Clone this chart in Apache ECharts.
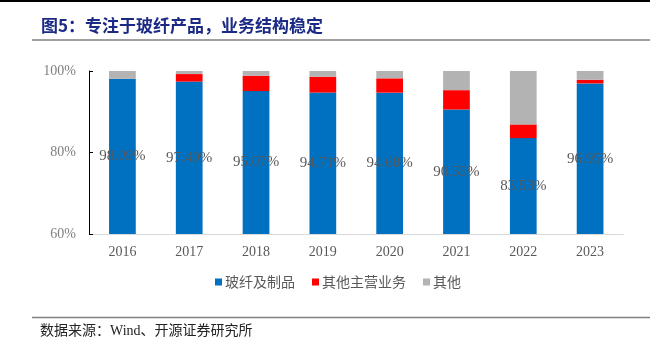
<!DOCTYPE html>
<html><head><meta charset="utf-8">
<script src="https://cdn.jsdelivr.net/npm/echarts@6/dist/echarts.min.js"></script>
<style>html,body{margin:0;padding:0;background:#fff}#c{width:650px;height:339px}</style>
</head><body><div id="c"></div>
<script>
var categories = ['2016','2017','2018','2019','2020','2021','2022','2023'];
var glassFiber = [98.09, 97.40, 95.07, 94.71, 94.68, 90.55, 83.53, 96.95];
var otherMain = [0.00, 1.85, 3.78, 3.89, 3.52, 4.75, 3.37, 0.90];
var others = [1.91, 0.75, 1.15, 1.40, 1.80, 4.70, 13.10, 2.15];
var seriesNames = ['玻纤及制品', '其他主营业务', '其他'];
var yTicks = [60, 80, 100];

var chart = echarts.init(document.getElementById('c'), null, {renderer: 'canvas'});
var serif = '"Liberation Serif", "Times New Roman", serif';
var mixed = '"Liberation Serif", "Noto Sans CJK SC", serif';
var cjk = '"Noto Sans CJK SC", sans-serif';
chart.setOption({
  animation: false,
  title: [{
    text: '图5：专注于玻纤产品，业务结构稳定',
    left: 41, top: 17, padding: 0,
    textStyle: {fontFamily: cjk, fontSize: 17, fontWeight: 'bold', color: '#1b2a84', lineHeight: 17}
  }, {
    text: '数据来源：Wind、开源证券研究所',
    left: 40, top: 324, padding: 0,
    textStyle: {fontFamily: mixed, fontSize: 14, fontWeight: 'normal', color: '#222', lineHeight: 14}
  }],
  graphic: [
    {type: 'line', shape: {x1: 0, y1: 1, x2: 650, y2: 1}, style: {stroke: '#000', lineWidth: 2}},
    {type: 'line', shape: {x1: 32, y1: 40, x2: 650, y2: 40}, style: {stroke: '#808080', lineWidth: 1.5}},
    {type: 'line', shape: {x1: 32, y1: 317.5, x2: 650, y2: 317.5}, style: {stroke: '#808080', lineWidth: 1.5}}
  ],
  legend: {
    data: seriesNames,
    top: 275, left: 215, padding: 0,
    itemWidth: 7, itemHeight: 7, itemGap: 17,
    icon: 'rect',
    textStyle: {fontFamily: cjk, fontSize: 14, color: '#595959', padding: [0, 0, 0, -2], lineHeight: 14}
  },
  grid: {left: 89, right: 26.5, top: 71, bottom: 105, containLabel: false},
  xAxis: {
    type: 'category', data: categories,
    axisLine: {lineStyle: {color: '#d9d9d9', width: 1}},
    axisTick: {show: false},
    axisLabel: {fontFamily: serif, fontSize: 14, color: '#595959', margin: 11}
  },
  yAxis: {
    type: 'value', min: 60, max: 100, interval: 20,
    axisLine: {show: true, lineStyle: {color: '#000', width: 1}},
    axisTick: {show: true, inside: true, length: 4, lineStyle: {color: '#000'}},
    splitLine: {show: false},
    axisLabel: {fontFamily: serif, fontSize: 14, color: '#7f7f7f', margin: 13,
      formatter: function (v) { return yTicks.indexOf(v) >= 0 ? v + '%' : ''; }}
  },
  series: [{
    name: seriesNames[0], type: 'bar', stack: 'a', data: glassFiber, barWidth: '40%',
    itemStyle: {color: '#0070c0'},
    label: {show: true, position: 'inside', fontFamily: serif, fontSize: 15, color: '#595959',
      formatter: function (p) { return p.value.toFixed(2) + '%'; }}
  }, {
    name: seriesNames[1], type: 'bar', stack: 'a', data: otherMain, barWidth: '40%',
    itemStyle: {color: '#ff0000'}
  }, {
    name: seriesNames[2], type: 'bar', stack: 'a', data: others, barWidth: '40%',
    itemStyle: {color: '#b3b3b3'}
  }]
});
</script></body></html>
